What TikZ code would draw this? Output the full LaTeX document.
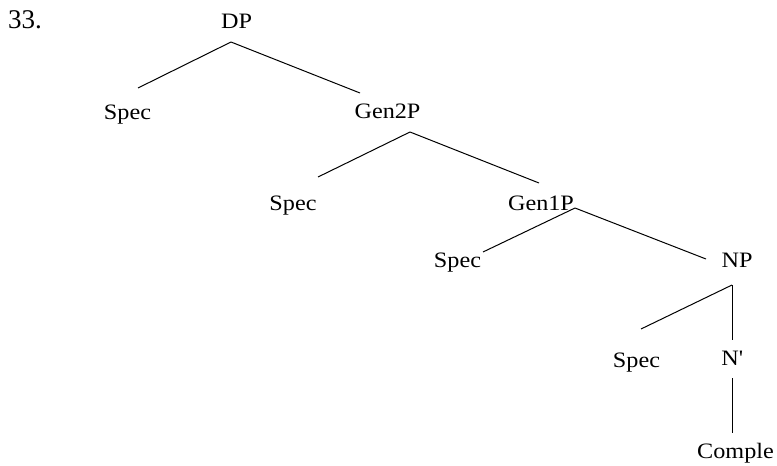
\documentclass[tikz,border=0pt]{standalone}
\usepackage{fontspec}
\setmainfont{Liberation Serif}[FakeStretch=1.1]
\newfontfamily\numfont{Liberation Serif}
\usetikzlibrary{positioning,calc}

\begin{document}
\begin{tikzpicture}[
  x=1pt,y=-1pt,
  font=\fontsize{22}{26}\selectfont,
  lbl/.style={anchor=base,inner sep=0pt},
  br/.style={black,line width=1pt}
]
\useasboundingbox (0,0) rectangle (777,466);
% example number
\node[lbl,anchor=base west,font=\numfont\fontsize{27}{30}\selectfont] (num) at (8,28) {33.};
% DP layer
\node[lbl] (dp) at (236.5,28) {DP};
\node[lbl] (spec1) at (127.5,119) {Spec};
\node[lbl] (gen2) at (387.5,118) {Gen2P};
% Gen2P layer
\node[lbl] (spec2) at (293,210) {Spec};
\node[lbl] (gen1) at (541,210) {Gen1P};
% Gen1P layer
\node[lbl] (spec3) at (457.5,267) {Spec};
\node[lbl] (np) at (737,267) {NP};
% NP layer
\node[lbl] (spec4) at (636.5,367) {Spec};
\node[lbl] (nbar) at (732,365) {N\textquotesingle};
\node[lbl,anchor=base west] (comple) at (697,458) {Comple};

\draw[br] ([shift={(-5.5,14)}]dp.base) -- ([shift={(10.5,-31)}]spec1.base);
\draw[br] ([shift={(-5.5,14)}]dp.base) -- ([shift={(-27.5,-25)}]gen2.base);
\draw[br] ([shift={(22.5,14)}]gen2.base) -- ([shift={(25,-33)}]spec2.base);
\draw[br] ([shift={(22.5,14)}]gen2.base) -- ([shift={(-2,-27)}]gen1.base);
\draw[br] ([shift={(34,-2)}]gen1.base) -- ([shift={(25.5,-15)}]spec3.base);
\draw[br] ([shift={(34,-2)}]gen1.base) -- ([shift={(-31,-8)}]np.base);
\draw[br] ([shift={(-5,18)}]np.base) -- ([shift={(4.5,-38)}]spec4.base);
\draw[br] ([shift={(-5,18)}]np.base) -- ([shift={(0,-25)}]nbar.base);
\draw[br] ([shift={(0,13)}]nbar.base) -- ([shift={(35,-25)}]comple.base west);
\end{tikzpicture}
\end{document}
